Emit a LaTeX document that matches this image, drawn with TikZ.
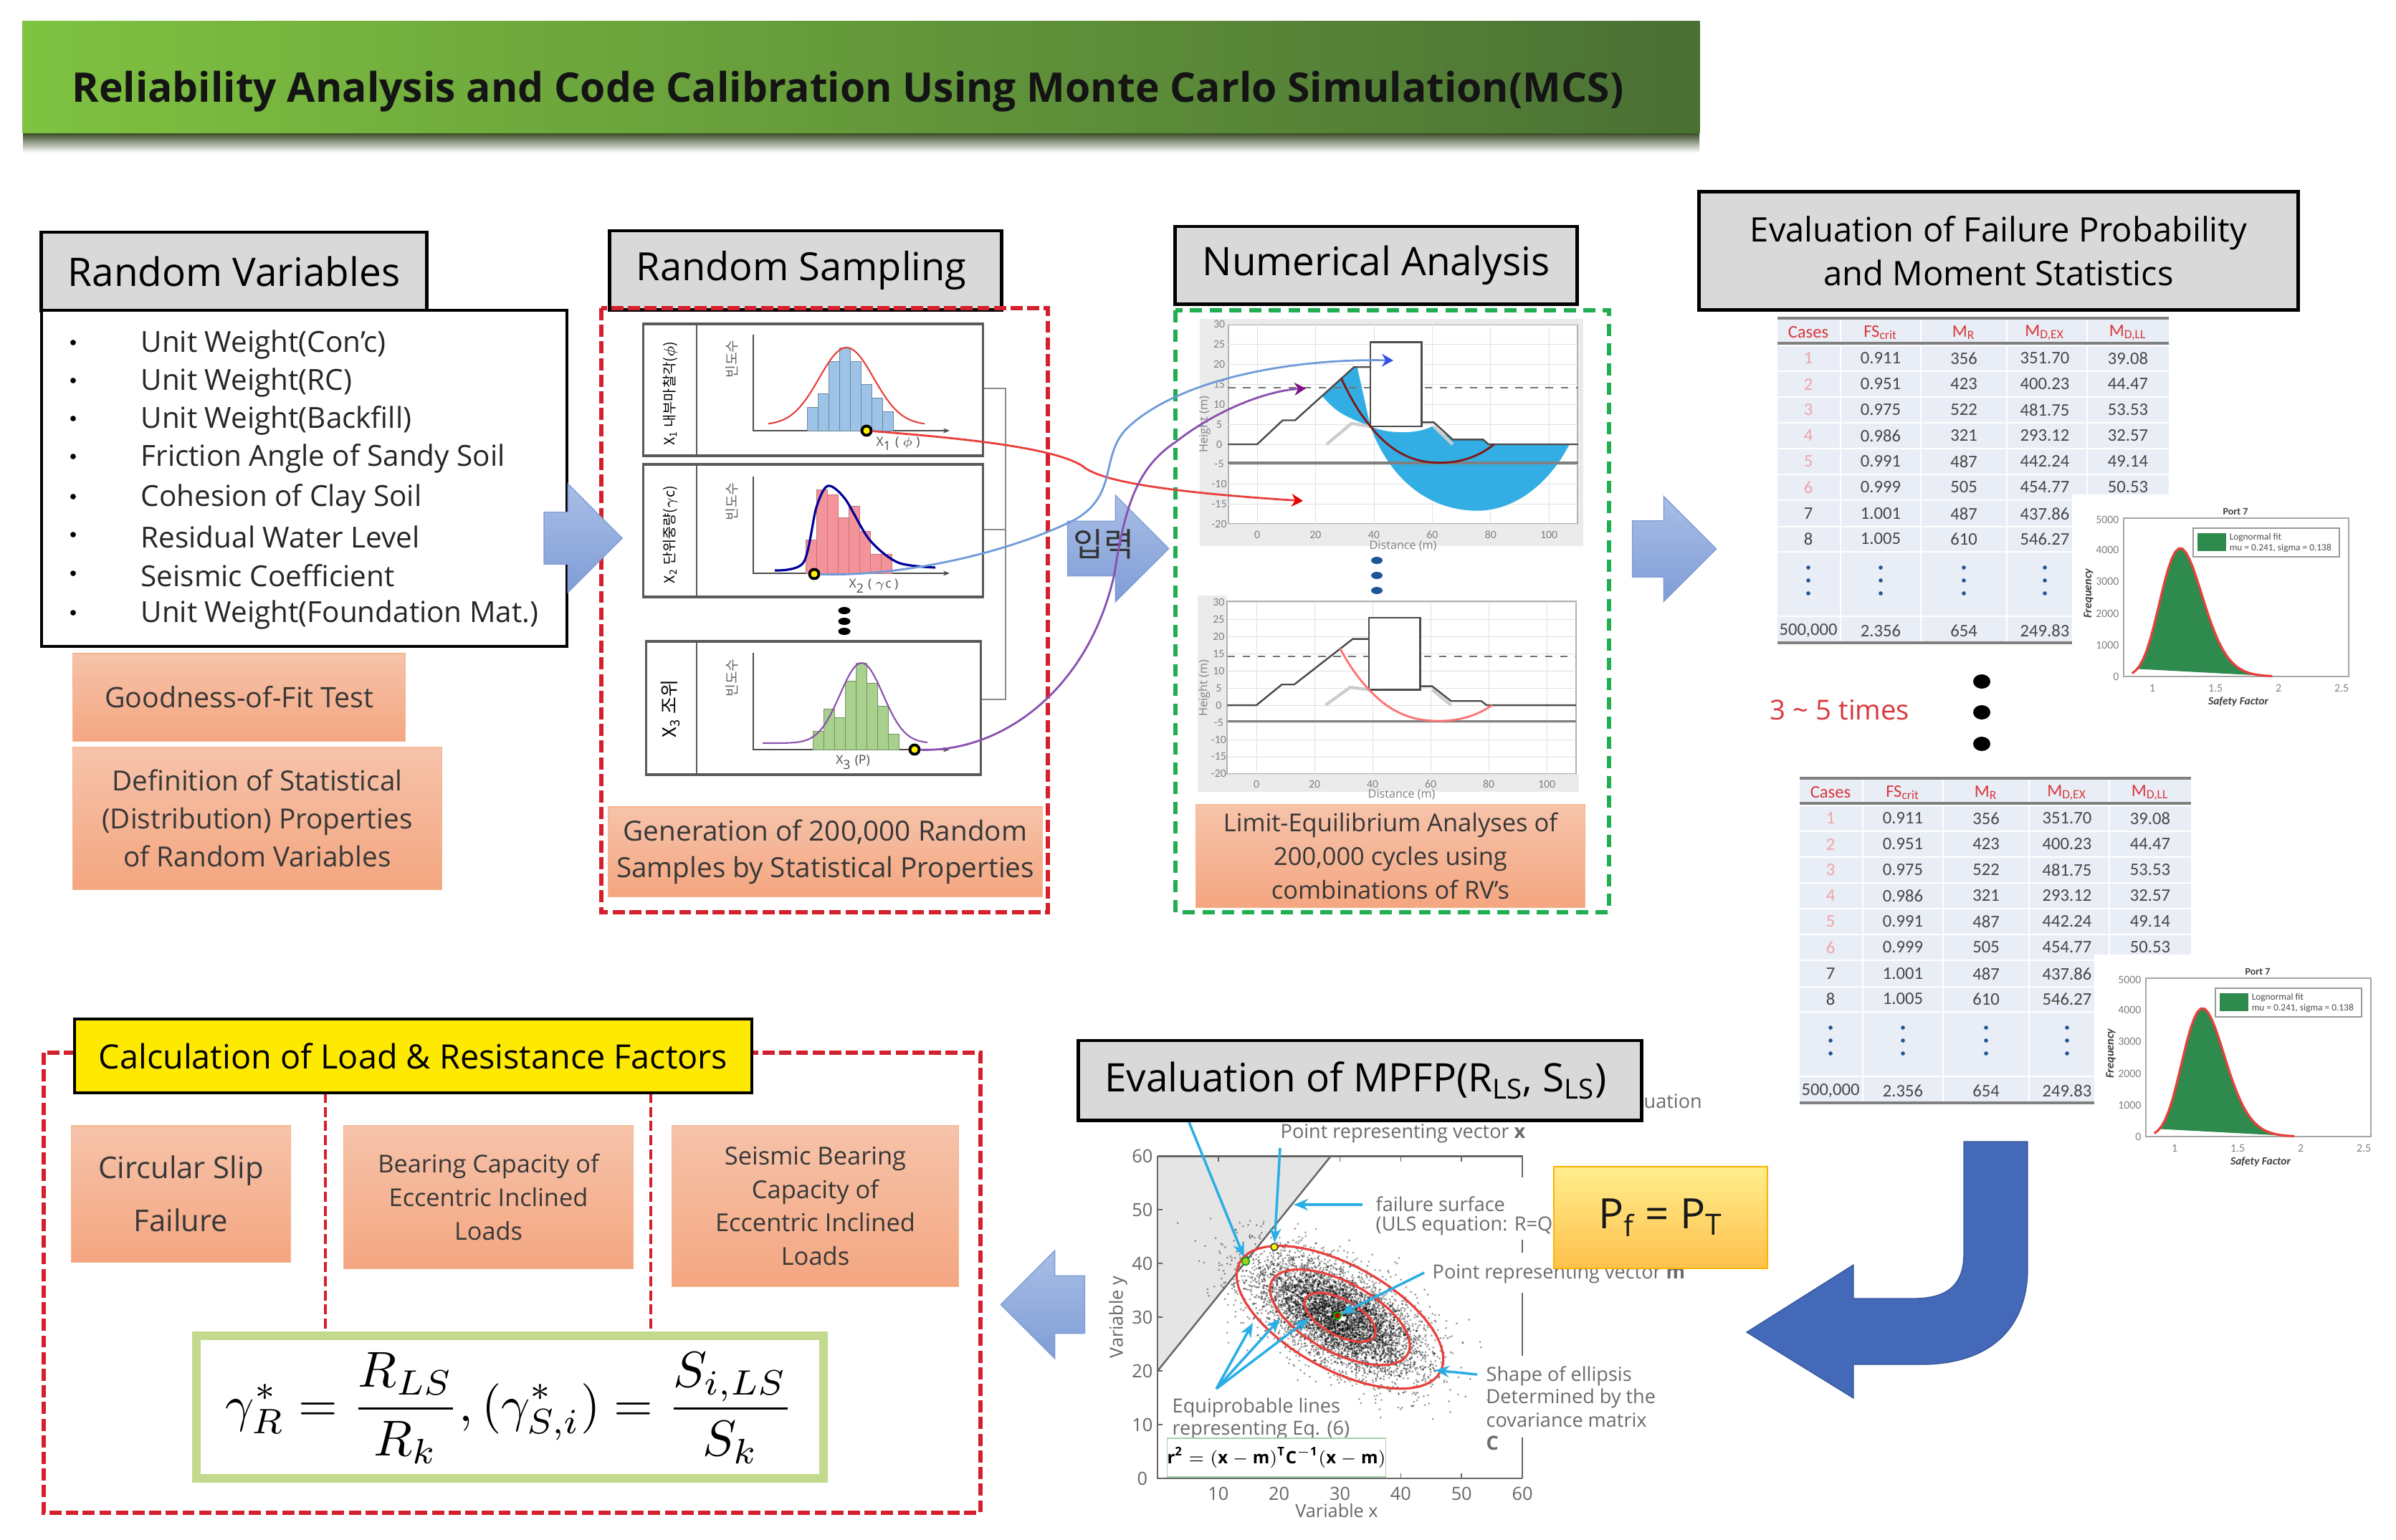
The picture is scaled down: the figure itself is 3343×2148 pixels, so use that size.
\documentclass[tikz,border=0pt]{standalone}
\usepackage{fontspec}
\usepackage{tikz}
\usetikzlibrary{arrows.meta,shapes.arrows}
\setmainfont{Open Sans}
\newfontfamily\kor{Noto Sans CJK KR}
\newfontfamily\narrow{Carlito}
\definecolor{boxgray}{HTML}{D9D9D9}
\definecolor{orangetop}{HTML}{F6C3AA}
\definecolor{orangebot}{HTML}{F4A680}
\definecolor{orangeline}{HTML}{F6B48E}
\definecolor{dashred}{HTML}{D4202C}
\definecolor{dashgreen}{HTML}{21AE50}
\definecolor{arrowtop}{HTML}{A9BEE6}
\definecolor{arrowbot}{HTML}{7F9DD6}
\definecolor{bigblue}{HTML}{4369B8}
\definecolor{rowblue}{HTML}{E9EDF5}
\definecolor{slipblue}{HTML}{33AEE4}
\definecolor{callout}{HTML}{2BAEE6}
\definecolor{casered}{HTML}{D8383C}
\definecolor{fitgreen}{HTML}{2F8A4E}
\definecolor{sampblue}{HTML}{6F9BD8}
\definecolor{samppurple}{HTML}{8A50B0}
\definecolor{sampred}{HTML}{E8403C}
\definecolor{dotblue}{HTML}{1F5596}
\definecolor{bannerleft}{HTML}{7FC241}
\definecolor{bannerright}{HTML}{4A7034}
\definecolor{bannershade}{HTML}{33471F}
\definecolor{formulagreen}{HTML}{C3D98C}
\definecolor{barblue}{HTML}{9DC3E6}
\definecolor{barred}{HTML}{F4949A}
\definecolor{bargreen}{HTML}{A9D18E}

\tikzset{
    headbox/.style={draw=black, line width=1.4pt, fill=boxgray, align=center, text=black},
    orangebox/.style={draw=orangeline, line width=0.3pt, top color=orangetop, bottom color=orangebot,
        align=center, text=black!78},
    redframe/.style={draw=dashred, line width=1.5pt, dash pattern=on 4.8pt off 1.8pt},
    blockarrow/.style={single arrow, draw=arrowbot, top color=arrowtop, bottom color=arrowbot,
        inner xsep=0pt, single arrow head indent=0pt},
    distbox/.style={draw=black!65, line width=0.9pt, fill=white},
    marker/.style={circle, draw=black, line width=1.1pt, fill=yellow, inner sep=0pt, minimum size=0.13cm},
    sample/.style={line width=0.8pt},
    slope/.style={draw=black!70, line width=0.7pt},
    pointer/.style={draw=callout, line width=1pt, -{Stealth[length=0.2cm,width=0.16cm]}},
    axisnum/.style={text=black!50, font=\narrow\fontsize{4.5}{5}\selectfont, inner sep=0pt},
    distlabel/.style={text=black!50, font=\fontsize{4.6}{5}\selectfont, inner sep=0pt},
    mpfptext/.style={text=black!58, font=\fontsize{7.7}{9}\selectfont, inner sep=0pt, anchor=west},
    mpfpnum/.style={text=black!60, font=\fontsize{7.2}{9}\selectfont, inner sep=0pt},
    cell/.style={inner sep=0pt, text=black!72, font=\narrow\fontsize{7}{8}\selectfont}
}

% one table of sampled cases, in the place of the upper one
\newcommand{\casetable}{
    \fill[rowblue] (2480,446) rectangle (3026,895);
    \foreach \y in {482,518,554,590,626,662,698,735,770,860}
        \draw[white, line width=0.5pt] (2480,\y) -- (3026,\y);
    \foreach \x in {2568,2680,2800,2912}
        \draw[white, line width=0.5pt] (\x,446) -- (\x,895);
    \draw[black!50, line width=1pt] (2480,444) -- (3026,444);
    \draw[black!50, line width=1pt] (2480,479) -- (3026,479);
    \draw[black!50, line width=1pt] (2480,897) -- (3026,897);
    \foreach \x/\t in {2523/Cases,2624/FS\textsubscript{crit},2740/M\textsubscript{R},
        2853/M\textsubscript{D,EX},2969/M\textsubscript{D,LL}}
        \node[cell, text=casered] at (\x,464) {\t};
    \foreach \y/\n/\a/\b/\c/\d in {500/1/0.911/356/351.70/39.08,536/2/0.951/423/400.23/44.47,
        572/3/0.975/522/481.75/53.53,608/4/0.986/321/293.12/32.57,644/5/0.991/487/442.24/49.14,
        680/6/0.999/505/454.77/50.53,717/7/1.001/487/437.86/ ,752/8/1.005/610/546.27/ ,
        880/{500,000}/2.356/654/249.83/ }{
        \node[cell] at (2624,\y) {\a};
        \node[cell] at (2740,\y) {\b};
        \node[cell] at (2853,\y) {\c};
        \node[cell] at (2969,\y) {\d};
        \ifnum\y<700 \node[cell, text=casered!45] at (2523,\y) {\n};
        \else \node[cell] at (2523,\y) {\n}; \fi
    }
    \foreach \x in {2523,2624,2740,2853}
        \foreach \y in {792,810,828}
            \fill[dotblue] (\x,\y) circle (0.8pt);
}

% the safety factor histogram beside that table
\newcommand{\safetychart}{
    \fill[white] (2891,690) rectangle (3343,990);
    \draw[black!35, line width=0.4pt] (2963,723) rectangle (3277,944);
    \fill[fitgreen] plot[domain=0.88:1.95,samples=40] ({3003+176*(\x-1)},{944-179*exp(-(ln(\x)-0.2)*(ln(\x)-0.2)/0.038)}) -- cycle;
    \draw[sampred, line width=0.9pt] plot[domain=0.84:1.95,samples=40] ({3003+176*(\x-1)},{944-179*exp(-(ln(\x)-0.2)*(ln(\x)-0.2)/0.038)});
    \foreach \y/\t in {725/5000,767/4000,811/3000,856/2000,900/1000,944/0}
        \node[axisnum, anchor=east] at (2957,\y) {\t};
    \foreach \x/\t in {3003/1,3091/1.5,3179/2,3267/2.5}
        \node[axisnum] at (\x,960) {\t};
    \node[axisnum, text=black!75, font=\narrow\bfseries\fontsize{4}{4}\selectfont] at (3119,714) {Port 7};
    \node[axisnum, text=black!75, font=\narrow\bfseries\itshape\fontsize{4.4}{4}\selectfont] at (3123,979) {Safety Factor};
    \node[axisnum, text=black!75, rotate=90, font=\narrow\bfseries\itshape\fontsize{4.6}{4}\selectfont] at (2914,828) {Frequency};
    \draw[black!40, fill=white, line width=0.4pt] (3060,737) rectangle (3264,777);
    \fill[fitgreen] (3066,744) rectangle (3106,769);
    \node[axisnum, anchor=west, text=black!70, font=\narrow\fontsize{3.8}{4}\selectfont] at (3110,750) {Lognormal fit};
    \node[axisnum, anchor=west, text=black!70, font=\narrow\fontsize{3.8}{4}\selectfont] at (3110,765) {mu = 0.241, sigma = 0.138};
}

% slope, wall and foundation of one analysis plot
\newcommand{\slopeshape}{
    \draw[black!20, line width=1.2pt] (23.8,0) -- (32.3,5.2) -- (38.8,4.5);
    \draw[black!20, line width=1.2pt] (60.5,4.5) -- (67,0);
    \draw[black!55, line width=0.5pt, dashed] (-10,14.2) -- (110,14.2);
    \draw[black!50, line width=1pt] (-10,-4.7) -- (110,-4.7);
    \draw[slope] (-10,0) -- (0,0) -- (8.75,6) -- (13,6) -- (33.2,19.3) -- (38.8,19.3);
    \draw[slope] (56.4,5.5) -- (60.5,5.5) -- (67,1.2) -- (77.4,1.2) -- (79.3,0) -- (110,0);
    \draw[slope, fill=white] (38.8,4.5) rectangle (56.4,25.5);
}

\begin{document}
\begin{tikzpicture}[x=0.01cm, y=-0.01cm]
    \useasboundingbox (0,0) rectangle (3343,2148);

    % title banner
    \fill[top color=bannershade, bottom color=white] (32,185) rectangle (2371,213);
    \node[left color=bannerleft, right color=bannerright, minimum width=23.39cm, minimum height=1.55cm,
        inner sep=0pt] (banner) at (1201.5,107.5) {};
    \node[font=\bfseries\fontsize{16.2}{19}\selectfont, text=black!92] (title) at (1183,128)
        {Reliability Analysis and Code Calibration Using Monte Carlo Simulation(MCS)};

    % random variables
    \node[headbox, font=\fontsize{15.6}{19}\selectfont, minimum width=5.37cm, minimum height=1.09cm] (rvhead) at (326.5,378.5) {\raisebox{-2pt}{Random Variables}};
    \node[draw=black, line width=1.2pt, fill=white, minimum width=7.33cm, minimum height=4.69cm] (rvlist) at (424.5,667.5) {};
    \foreach \y/\t in {478/Unit Weight(Con'c),531/Unit Weight(RC),584/Unit Weight(Backfill),
        637/Friction Angle of Sandy Soil,693/Cohesion of Clay Soil,746/Residual Water Level,
        800/Seismic Coefficient,855/Unit Weight(Foundation Mat.)}{
        \fill[black] (102,\y) circle (1.1pt);
        \node[anchor=west, inner sep=0pt, text=black!85, font=\fontsize{11.5}{14}\selectfont] at (196,\y+3) {\t};
    }
    \node[orangebox, font=\fontsize{11.2}{14}\selectfont, minimum width=4.63cm, minimum height=1.22cm] (gof) at (333.5,973) {Goodness-of-Fit Test};
    \node[orangebox, font=\fontsize{11}{15}\selectfont, minimum width=5.14cm, minimum height=1.98cm] (defn) at (359,1142)
        {Definition of Statistical\\(Distribution) Properties\\of Random Variables};

    % random sampling
    \node[headbox, font=\fontsize{15.4}{19}\selectfont, minimum width=5.46cm, minimum height=1.1cm] (rshead) at (1124,377) {\kern-3.4pt\raisebox{-3.3pt}{Random Sampling}};
    \draw[redframe] (839,430) rectangle (1462,1273);
    \draw[black!45, line width=0.7pt] (1371,542) -- (1403,542) -- (1403,976) -- (1368,976);
    \draw[black!45, line width=0.7pt] (1371,739) -- (1403,739);
    \node[distbox, minimum width=4.73cm, minimum height=1.84cm] (dist1) at (1134.5,544) {};
    \node[distbox, minimum width=4.73cm, minimum height=1.85cm] (dist2) at (1134.5,740.5) {};
    \node[distbox, minimum width=4.66cm, minimum height=1.86cm] (dist3) at (1135,988) {};
    \draw[black!65, line width=0.7pt] (972,452) -- (972,636);
    \draw[black!65, line width=0.7pt] (972,648) -- (972,833);
    \draw[black!65, line width=0.7pt] (972,895) -- (972,1081);
    \foreach \y in {852,867,881}
        \fill[black] (1178,\y) ellipse (0.085cm and 0.05cm);
    \foreach \base/\top in {601/467,800/665,1046/911}{
        \draw[black!70, line width=0.5pt, -{Stealth[length=0.09cm,width=0.07cm]}] (1051,\top) -- (1051,\base) -- (1325,\base);
        \node[rotate=90, text=black!60, inner sep=0pt, font=\kor\fontsize{5.5}{6}\selectfont] at (1021,\base-100) {빈도수};
    }
    \foreach \i/\h in {0/33,1/52,2/97,3/116,4/97,5/65,6/46,7/27}
        \draw[fill=barblue, draw=barblue!70!black, line width=0.2pt] (1126+\i*15,601) rectangle ++(15,-\h);
    \foreach \i/\h in {0/47,1/117,2/110,3/78,4/94,5/59,6/27,7/27}
        \draw[fill=barred, draw=barred!80!black, line width=0.2pt] (1124+\i*15,800) rectangle ++(15,-\h);
    \foreach \i/\h in {0/26,1/57,2/45,3/96,4/121,5/93,6/61,7/22}
        \draw[fill=bargreen, draw=bargreen!70!black, line width=0.2pt] (1134+\i*15,1046) rectangle ++(15,-\h);
    \draw[sampred, line width=0.6pt] plot[domain=1072:1290,samples=50] ({\x},{593-108*exp(-((\x-1181)/38)*((\x-1181)/38)/2)});
    \draw[blue!60!black, line width=0.9pt] plot[smooth] coordinates {(1081,796) (1121,785) (1139,708) (1155,678) (1179,696) (1213,753) (1253,785) (1305,792)};
    \draw[samppurple, line width=0.6pt] plot[domain=1064:1294,samples=50] ({\x},{1037-112*exp(-((\x-1202)/30)*((\x-1202)/30)/2)});
    \node[rotate=90, text=black, inner sep=0pt, font=\kor\fontsize{5.6}{6}\selectfont] (side1) at (935,549) {X\textsubscript{1} 내부마찰각($\phi$)};
    \node[rotate=90, text=black, inner sep=0pt, font=\kor\fontsize{5.6}{6}\selectfont] (side2) at (935,746) {X\textsubscript{2} 단위중량($\gamma$c)};
    \node[rotate=90, text=black, inner sep=0pt, font=\kor\fontsize{7.4}{8}\selectfont] (side3) at (935,989) {X\textsubscript{3} 조위};
    \node[text=black!70, inner sep=0pt, font=\fontsize{5}{6}\selectfont] at (1253,619) {X\textsubscript{1} ( $\phi$ )};
    \node[text=black!70, inner sep=0pt, font=\fontsize{5}{6}\selectfont] at (1219,818) {X\textsubscript{2} ( $\gamma$c )};
    \node[text=black!70, inner sep=0pt, font=\fontsize{5}{6}\selectfont] at (1190,1064) {X\textsubscript{3} (P)};
    \node[marker] (mk1) at (1209,601) {};
    \node[marker] (mk2) at (1136,801) {};
    \node[marker] (mk3) at (1276,1046) {};
    \node[orangebox, font=\fontsize{11}{14.5}\selectfont, minimum width=5.97cm, minimum height=1.25cm] (genbox) at (1151.5,1188.5)
        {Generation of 200,000 Random\\Samples by Statistical Properties};

    % numerical analysis
    \node[headbox, font=\fontsize{15.6}{19}\selectfont, minimum width=5.6cm, minimum height=1.08cm] (nahead) at (1920,370) {\raisebox{-3.3pt}{Numerical Analysis}};
    \draw[dashgreen, line width=1.5pt, dash pattern=on 4.8pt off 3pt] (1640,433) rectangle (2245,1273);
    \fill[black!8] (1674,445) rectangle (2209,762);
    \fill[white] (1714,453) rectangle (2201,731);
    \draw[black!30, line width=0.7pt] (1714,453) rectangle (2201,731);
    \begin{scope}[shift={(1754,620)}, x=0.0407cm, y=0.0558cm]
        \foreach \d in {0,20,40,60,80,100}{
            \draw[black!12, line width=0.2pt] (\d,-20) -- (\d,30);
            \node[axisnum] at (\d,-22.6) {\d};
        }
        \foreach \h in {-20,-15,-10,-5,0,5,10,15,20,25,30}{
            \draw[black!12, line width=0.2pt] (-10,\h) -- (110,\h);
            \node[axisnum] at (-13,\h) {\h};
        }
        \node[distlabel] at (50,-25.4) {Distance (m)};
        \node[distlabel, rotate=90] at (-18,5) {Height (m)};
        \fill[slipblue] (22.4,12) -- (33.2,19.3) -- (34.3,19.3) -- (38.8,4.5) .. controls (30,7) and (27,8) .. (22.4,12);
        \fill[slipblue] (38.8,4.5) .. controls (45,2.5) and (55,2.5) .. (60,4.5) -- (67,1.2) -- (77.4,1.2) -- (79.3,0) -- (107,0)
            .. controls (100,-10) and (88,-16.6) .. (75.5,-16.6) .. controls (58,-16.6) and (45,-8) .. (38.8,4.5);
        \slopeshape
        \draw[red!45!black!90, line width=0.8pt] (28.8,16.5) .. controls (33,10) and (36,7) .. (38.8,4.5)
            .. controls (47,-3) and (55,-4.6) .. (62.8,-4.6) .. controls (70,-4.6) and (76,-3) .. (81.2,0);
    \end{scope}
    \foreach \y in {782,803,824}
        \fill[dotblue] (1921,\y) ellipse (0.08cm and 0.05cm);
    \fill[black!8] (1671,1080) rectangle (2203,1105);
    \fill[black!8] (1671,831) rectangle (1712,1105);
    \draw[black!30, line width=0.7pt] (1712,839) rectangle (2199,1080);
    \begin{scope}[shift={(1753,984)}, x=0.0405cm, y=0.0479cm]
        \foreach \d in {0,20,40,60,80,100}{
            \draw[black!12, line width=0.2pt] (\d,-20) -- (\d,30);
            \node[axisnum] at (\d,-23) {\d};
        }
        \foreach \h in {-20,-15,-10,-5,0,5,10,15,20,25,30}{
            \draw[black!12, line width=0.2pt] (-10,\h) -- (110,\h);
            \node[axisnum] at (-13,\h) {\h};
        }
        \node[distlabel] at (50,-26) {Distance (m)};
        \node[distlabel, rotate=90] at (-18,5) {Height (m)};
        \slopeshape
        \draw[red!55, line width=0.8pt] (28.8,16.5) .. controls (33,10) and (36,7) .. (38.8,4.5)
            .. controls (47,-3) and (55,-4.6) .. (62.8,-4.6) .. controls (70,-4.6) and (76,-3) .. (81.2,0);
    \end{scope}
    \node[orangebox, font=\fontsize{9.8}{13.3}\selectfont, minimum width=5.42cm, minimum height=1.43cm] (leabox) at (1940,1194.5)
        {Limit-Equilibrium Analyses of\\200,000 cycles using\\combinations of RV's};

    % block arrows along the top row
    \node[blockarrow, inner ysep=0.355cm, minimum height=1.09cm, single arrow head extend=0.395cm] (arrowrv) at (795.5,751) {};
    \node[blockarrow, inner ysep=0.375cm, minimum height=1.41cm, single arrow head extend=0.36cm] (arrowinput) at (1541,765.5) {};
    \node[blockarrow, inner ysep=0.385cm, minimum height=1.17cm, single arrow head extend=0.34cm] (arrowfp) at (2316.5,766) {};
    \node[text=black!80, font=\kor\fontsize{13}{15}\selectfont, inner sep=0pt] (inputlabel) at (1540,759) {입력};

    % samples handed over to the analysis
    \coordinate (tipred) at (1818,699);
    \coordinate (tipblue) at (1944,503);
    \coordinate (tippurple) at (1822,542);
    \draw[sample, draw=sampred, -{Stealth[length=0.16cm,width=0.18cm,color=red!90!black]}] (mk1) .. controls (1350,612) and (1470,625) .. (1510,650) .. controls (1530,668) and (1600,685) .. (tipred);
    \draw[sample, draw=sampblue, -{Stealth[length=0.16cm,width=0.18cm,color=blue!50!sampblue]}] (mk2) .. controls (1250,805) and (1400,775) .. (1500,725) .. controls (1560,690) and (1535,640) .. (1570,600) .. controls (1640,530) and (1800,500) .. (tipblue);
    \draw[sample, draw=samppurple, -{Stealth[length=0.16cm,width=0.18cm,color=violet!80!samppurple]}] (mk3) .. controls (1400,1050) and (1520,960) .. (1555,800) .. controls (1570,700) and (1590,650) .. (1640,617) .. controls (1700,570) and (1770,545) .. (tippurple);

    % failure probability
    \node[headbox, font=\fontsize{13.4}{17.5}\selectfont, minimum width=8.35cm, minimum height=1.65cm] (fphead) at (2788.5,350)
        {Evaluation of Failure Probability\\and Moment Statistics};
    \casetable
    \safetychart
    \begin{scope}[shift={(31,642)}]
        \casetable
        \safetychart
    \end{scope}
    \foreach \y in {951,994,1038}
        \fill[black] (2765,\y) ellipse (0.12cm and 0.1cm);
    \node[text=casered, font=\fontsize{10.9}{13}\selectfont, inner sep=0pt] (repeatlabel) at (2567,991) {3 \textasciitilde{} 5 times};

    % big turn arrow
    \fill[bigblue, draw=bigblue!85!black, line width=0.4pt] (2829,1593) -- (2829,1770) .. controls (2829,1850) and (2780,1904) .. (2680,1904)
        -- (2586,1904) -- (2586,1951) -- (2437,1859) -- (2586,1765) -- (2586,1812) -- (2670,1812)
        .. controls (2720,1812) and (2740,1790) .. (2740,1750) -- (2740,1593) -- cycle;

    % MPFP chart
    \begin{scope}[shift={(1615,2063)}, x=0.0848cm, y=0.0749cm]
        \fill[black!10] (0,20) -- (28.5,60) -- (0,60) -- cycle;
        \pgfmathsetseed{7}
        \foreach \i in {1,...,6000}{
            \pgfmathsetmacro\ang{360*rnd}
            \pgfmathsetmacro\rad{sqrt(-2*ln(0.0002+0.99*rnd))}
            \fill[black, opacity=0.42] ({30+7*\rad*cos(\ang)},{30-5.5*\rad*cos(\ang+54)}) circle (0.42pt);
        }
        \draw[black!60, line width=0.7pt] (0,20) -- (28.5,60);
        \draw[black!60, line width=0.7pt] (0,60) -- (0,0) -- (60,0);
        \draw[black!60, line width=0.7pt] (0,60) -- (60,60) -- (60,56);
        \draw[black!60, line width=0.7pt] (60,44.5) -- (60,42);
        \draw[black!60, line width=0.7pt] (60,34.6) -- (60,22.8);
        \draw[black!60, line width=0.7pt] (60,7.6) -- (60,0);
        \foreach \t in {10,20,30,40,50}{
            \draw[black!60, line width=0.5pt] (\t,0) -- (\t,1);
            \draw[black!60, line width=0.5pt] (\t,60) -- (\t,59);
            \draw[black!60, line width=0.5pt] (0,\t) -- (0.8,\t);
        }
        \foreach \t in {0,10,20,30,40,50,60}
            \node[mpfpnum] at (-2.5,\t) {\t};
        \foreach \t in {10,20,30,40,50,60}
            \node[mpfpnum] at (\t,-2.8) {\t};
        \foreach \rx/\ry in {17/13.3,11.5/8.9,5.85/4.55}
            \draw[sampred, line width=0.9pt] plot[domain=0:360,samples=72] ({30+\rx*cos(\x)},{30-\ry*cos(\x+54)}) -- cycle;
    \end{scope}
    \node[mpfpnum] (varx) at (1865,2108) {Variable x};
    \node[mpfpnum, rotate=90] (vary) at (1560,1838) {Variable y};
    \node[circle, fill=yellow!60!green, draw=green!60!black, line width=0.4pt, inner sep=0pt, minimum size=0.11cm] (mpfp) at (1738,1760) {};
    \node[circle, fill=yellow, draw=black!70, line width=0.5pt, inner sep=0pt, minimum size=0.1cm] (vecx) at (1778,1740) {};
    \node[circle, fill=red!80!black, draw=green!70!black, line width=0.6pt, inner sep=0pt, minimum size=0.1cm] (vecm) at (1866,1836) {};
    \node[mpfptext] (ptx) at (1786,1582) {Point representing vector \textbf{x}};
    \node[mpfptext] (fsurf) at (1919,1680) {failure surface};
    \node[mpfptext] (uls) at (1919,1711) {(ULS equation: R=Q};
    \node[mpfptext] (ptm) at (1998,1778) {Point representing vector \textbf{m}};
    \node[mpfptext] (shp1) at (2073,1920) {Shape of ellipsis};
    \node[mpfptext] (shp2) at (2073,1951) {Determined by the};
    \node[mpfptext] (shp3) at (2073,1982) {covariance matrix};
    \node[mpfptext] (shp4) at (2073,2014) {\textbf{C}};
    \node[mpfptext] (eq1) at (1635,1964) {Equiprobable lines};
    \node[mpfptext] (eq2) at (1635,1996) {representing Eq. (6)};
    \node[mpfptext] (uation) at (2293,1537) {uation};
    \coordinate (fromhead) at (1659,1566);
    \coordinate (fromx) at (1786,1602);
    \coordinate (fromfs) at (1901,1681);
    \coordinate (tipfs) at (1805,1681);
    \coordinate (fromm) at (1987,1776);
    \coordinate (fromeq) at (1697,1938);
    \coordinate (tipeq1) at (1748,1846);
    \coordinate (tipeq2) at (1786,1840);
    \coordinate (tipeq3) at (1826,1840);
    \coordinate (fromshp) at (2061,1918);
    \coordinate (tipshp) at (2002,1912);
    \draw[pointer] (fromhead) -- (mpfp);
    \draw[pointer] (fromx) -- (vecx);
    \draw[pointer] (fromfs) -- (tipfs);
    \draw[pointer] (fromm) -- (vecm);
    \draw[pointer] (fromeq) -- (tipeq1);
    \draw[pointer] (fromeq) -- (tipeq2);
    \draw[pointer] (fromeq) -- (tipeq3);
    \draw[pointer] (fromshp) -- (tipshp);
    \node[draw=green!50!black!35, line width=0.4pt, fill=white, minimum width=2.98cm, minimum height=0.54cm, inner sep=0pt] (covbox) at (1781,2034)
        {\fontsize{6.8}{8}\selectfont$\mathbf{r^2=(x-m)^T C^{-1}(x-m)}$};
    \node[headbox, font=\fontsize{15.6}{19}\selectfont, minimum width=7.85cm, minimum height=1.11cm] (mpfphead) at (1897.5,1507.5)
        {\kern-3.4pt\raisebox{-3.3pt}{Evaluation of MPFP(R\textsubscript{LS}, S\textsubscript{LS})}};
    \node[draw=orange!60!yellow, line width=0.5pt, top color=orange!30!yellow!45!white, bottom color=orange!70!yellow!70!white,
        minimum width=2.98cm, minimum height=1.42cm, font=\fontsize{16.6}{18}\selectfont, text=black!90] (pfbox) at (2317,1699)
        {P\textsubscript{f} = P\textsubscript{T}};
    \node[blockarrow, shape border rotate=180, inner ysep=0.395cm, minimum height=1.17cm, single arrow head extend=0.35cm] (arrowfactor) at (1475,1820.5) {};

    % load and resistance factors
    \draw[redframe] (61,1469) rectangle (1368,2111);
    \draw[dashred, line width=1pt, dash pattern=on 4pt off 1.6pt] (454,1525) -- (454,1855);
    \draw[dashred, line width=1pt, dash pattern=on 4pt off 1.6pt] (908,1525) -- (908,1855);
    \node[draw=black, line width=1.2pt, fill=yellow!92!orange, minimum width=9.45cm, minimum height=1.03cm, font=\fontsize{13.3}{16}\selectfont] (lrhead) at (576.5,1473.5) {Calculation of Load \& Resistance Factors};
    \node[orangebox, font=\fontsize{11.9}{21}\selectfont, minimum width=3.05cm, minimum height=1.9cm] (circular) at (252.5,1666) {Circular Slip\\Failure};
    \node[orangebox, font=\fontsize{9.75}{13.3}\selectfont, minimum width=4.03cm, minimum height=1.99cm] (bearing) at (681.5,1670.5) {Bearing Capacity of\\Eccentric Inclined\\Loads};
    \node[orangebox, font=\fontsize{9.8}{13.3}\selectfont, minimum width=3.99cm, minimum height=2.24cm] (seismic) at (1137.5,1683) {Seismic Bearing\\Capacity of\\Eccentric Inclined\\Loads};
    \node[draw=formulagreen, line width=3.4pt, fill=white, minimum width=8.75cm, minimum height=1.99cm] (formulabox) at (711.5,1963.5) {};
    \node[scale=2] (formula) at (711,1965) {$\displaystyle \gamma_R^*=\frac{R_{LS}}{R_k},(\gamma_{S,i}^*)=\frac{S_{i,LS}}{S_k}$};
\end{tikzpicture}
\end{document}
